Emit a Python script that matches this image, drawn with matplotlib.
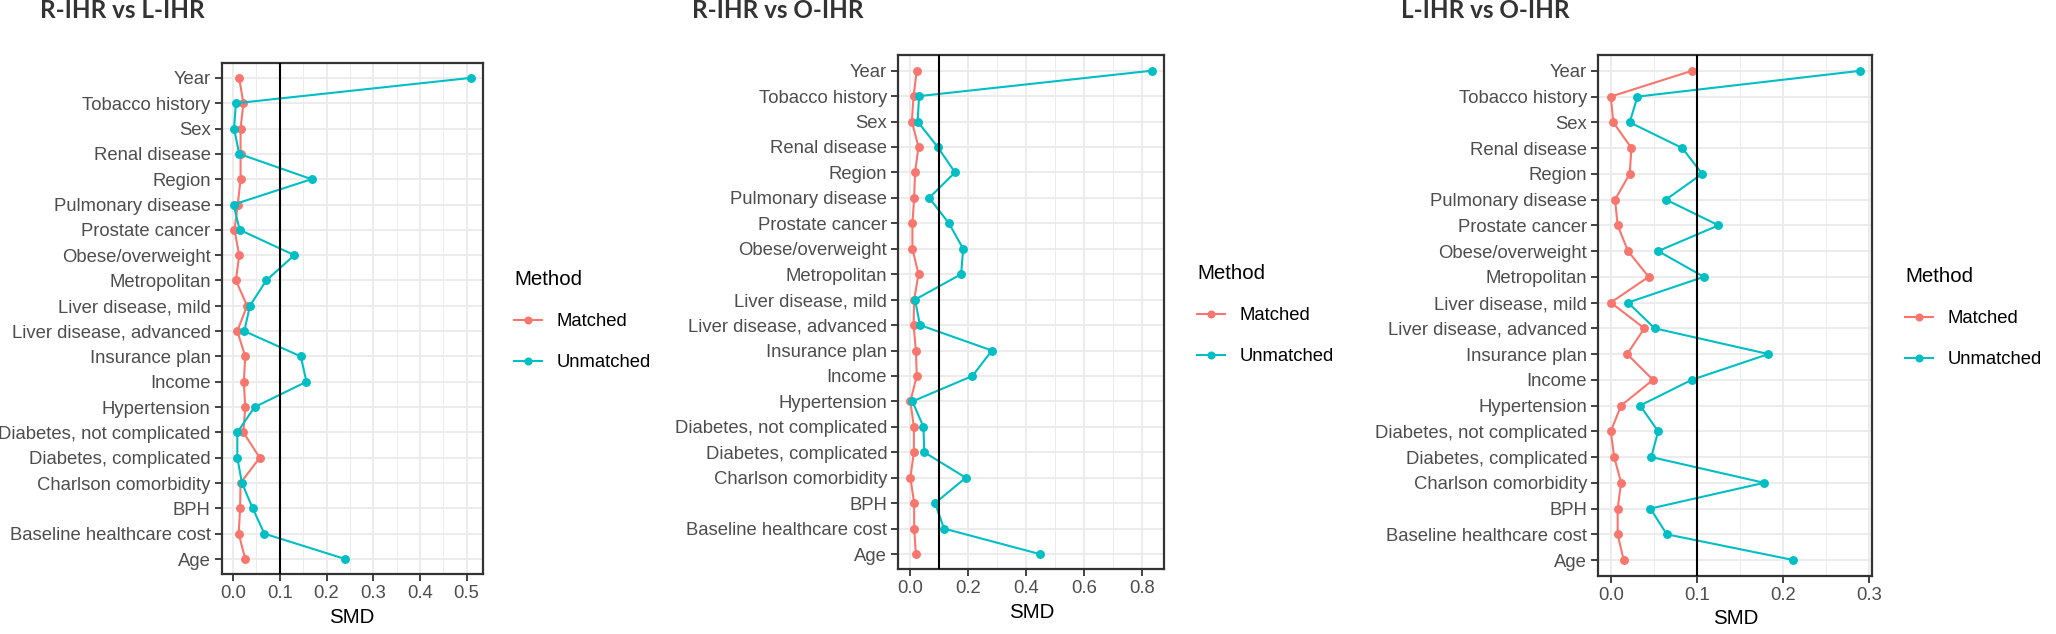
import matplotlib
matplotlib.use("Agg")
import matplotlib.pyplot as plt
from matplotlib.ticker import MultipleLocator, FormatStrFormatter
import numpy as np

# ---------------- data (bottom-to-top category order) ----------------
categories = ["Age", "Baseline healthcare cost", "BPH", "Charlson comorbidity",
              "Diabetes, complicated", "Diabetes, not complicated", "Hypertension",
              "Income", "Insurance plan", "Liver disease, advanced",
              "Liver disease, mild", "Metropolitan", "Obese/overweight",
              "Prostate cancer", "Pulmonary disease", "Region", "Renal disease",
              "Sex", "Tobacco history", "Year"]

titles = ["R-IHR vs L-IHR", "R-IHR vs O-IHR", "L-IHR vs O-IHR"]
methods = ["Matched", "Unmatched"]

rl_matched = [0.026, 0.012, 0.015, 0.016, 0.057, 0.022, 0.026, 0.023, 0.026, 0.009,
              0.030, 0.006, 0.013, 0.003, 0.010, 0.016, 0.016, 0.016, 0.022, 0.013]
rl_unmatched = [0.240, 0.067, 0.042, 0.019, 0.009, 0.009, 0.046, 0.157, 0.145, 0.024,
                0.036, 0.071, 0.131, 0.014, 0.001, 0.168, 0.013, 0.002, 0.006, 0.509]

ro_matched = [0.020, 0.014, 0.014, 0.001, 0.013, 0.013, 0.001, 0.023, 0.020, 0.012,
              0.014, 0.029, 0.008, 0.008, 0.014, 0.017, 0.029, 0.006, 0.012, 0.023]
ro_unmatched = [0.447, 0.117, 0.086, 0.192, 0.049, 0.046, 0.008, 0.215, 0.282, 0.034,
                0.017, 0.176, 0.183, 0.134, 0.066, 0.155, 0.095, 0.026, 0.031, 0.835]

lo_matched = [0.015, 0.008, 0.008, 0.012, 0.004, 0.000, 0.012, 0.049, 0.019, 0.039,
              0.000, 0.044, 0.020, 0.008, 0.005, 0.022, 0.024, 0.003, 0.000, 0.094]
lo_unmatched = [0.212, 0.065, 0.046, 0.178, 0.047, 0.055, 0.034, 0.094, 0.183, 0.051,
                0.020, 0.108, 0.055, 0.125, 0.064, 0.106, 0.083, 0.022, 0.031, 0.289]

threshold = 0.1
major_steps = [0.1, 0.2, 0.1]

# ---------------- styling ----------------
COL_M = "#F8766D"
COL_U = "#00BFC4"
W, H = 2056, 634

fig = plt.figure(figsize=(W / 100, H / 100), dpi=100)

# axes rectangles in pixels: left, top, right, bottom
rects_px = [(221.7, 62.7, 482.7, 574.2),
            (898.3, 55.4, 1164.3, 569.3),
            (1598.3, 55.4, 1872.3, 575.5)]
title_x_px = [40, 691.7, 1401]
legend_px = [(514, 270), (1197, 264), (1905, 267)]

series = [(rl_matched, rl_unmatched), (ro_matched, ro_unmatched), (lo_matched, lo_unmatched)]

FS_TICK = 13.3
FS_TITLE = 14.8
tick_font = dict(family="Liberation Sans", size=FS_TICK, color="#4D4D4D")

for i, (m_vals, u_vals) in enumerate(series):
    l, t, r, b = rects_px[i]
    ax = fig.add_axes([l / W, 1 - b / H, (r - l) / W, (b - t) / H])
    y = np.arange(1, len(categories) + 1)
    lm, = ax.plot(m_vals, y, color=COL_M, lw=1.5, marker="o", ms=5.4, label=methods[0], zorder=3)
    lu, = ax.plot(u_vals, y, color=COL_U, lw=1.5, marker="o", ms=5.4, label=methods[1], zorder=3)
    ax.axvline(threshold, color="black", lw=1.5, zorder=4)
    ax.margins(x=0.05)
    ax.set_ylim(0.4, len(categories) + 0.6)
    ax.set_yticks(y)
    ax.set_yticklabels(categories, fontdict=tick_font)
    ax.xaxis.set_major_locator(MultipleLocator(major_steps[i]))
    ax.xaxis.set_minor_locator(MultipleLocator(major_steps[i] / 2))
    ax.xaxis.set_major_formatter(FormatStrFormatter("%.1f"))
    for lab in ax.get_xticklabels():
        lab.set_fontfamily("Liberation Sans")
        lab.set_fontsize(FS_TICK)
        lab.set_color("#4D4D4D")
    ax.tick_params(axis="both", which="major", length=5, width=1.3, color="#333333", pad=3)
    ax.tick_params(axis="x", which="minor", length=0)
    ax.set_axisbelow(True)
    ax.grid(which="major", color="#EBEBEB", lw=1.3)
    ax.grid(which="minor", axis="x", color="#EBEBEB", lw=0.65)
    for s in ax.spines.values():
        s.set_color("#333333")
        s.set_linewidth(1.6)
    ax.set_xlabel("SMD", family="Liberation Sans", size=FS_TITLE, color="black", labelpad=4)
    # title
    fig.text(title_x_px[i] / W, 1 - 11 / H, titles[i], family="Lato", weight="bold",
             size=17.5, color="#333333", ha="left", va="center")
    # legend
    lx, ly = legend_px[i]
    leg = ax.legend(handles=[lm, lu], title="Method", loc="upper left",
                    bbox_to_anchor=(lx / W, 1 - ly / H), bbox_transform=fig.transFigure,
                    frameon=False, alignment="left", handlelength=1.5, handletextpad=0.8,
                    labelspacing=1.3, borderpad=0, borderaxespad=0,
                    prop=dict(family="Liberation Sans", size=FS_TICK),
                    title_fontproperties=dict(family="Liberation Sans", size=FS_TITLE))
    for h in leg.legend_handles:
        h.set_markersize(4.8)

fig.savefig("out.png", dpi=100)
